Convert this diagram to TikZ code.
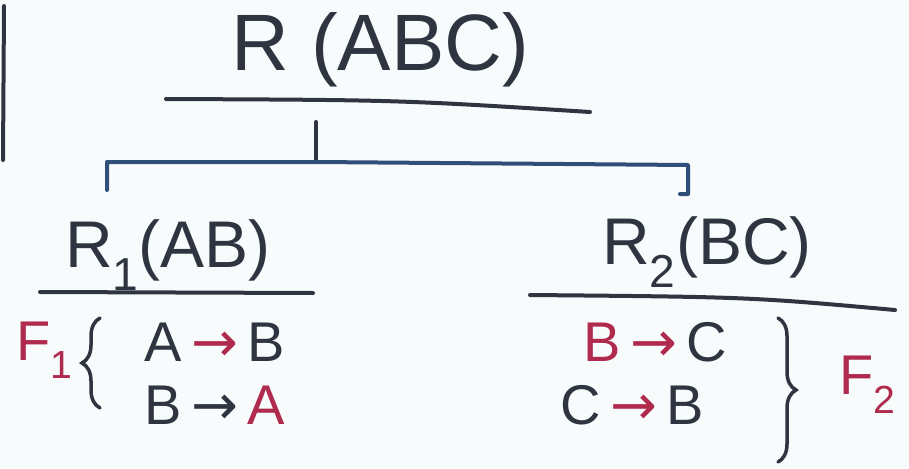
\documentclass[tikz,border=0pt]{standalone}
\usepackage{fontspec}
\setmainfont{Liberation Sans}
\newfontfamily\symfont{DejaVu Sans}
\usetikzlibrary{decorations.pathreplacing}
\definecolor{ink}{HTML}{2E3440}
\definecolor{redink}{HTML}{B02A4E}
\definecolor{blueink}{HTML}{2F4F7A}
\definecolor{paper}{HTML}{F8FBFB}
\tikzset{
  pen/.style={draw=ink, line width=4pt, line cap=round, line join=round},
  bluepen/.style={draw=blueink, line width=4pt, line cap=round, line join=round},
  big/.style={text=ink, inner sep=0pt, font=\fontsize{80}{90}\selectfont},
  mid/.style={text=ink, inner sep=0pt, font=\fontsize{66}{76}\selectfont},
  fd/.style={text=ink, inner sep=0pt, font=\fontsize{56}{64}\selectfont},
  lbl/.style={text=redink, inner sep=0pt, font=\fontsize{56}{64}\selectfont},
  curly/.style={draw=ink, line width=3.5pt, line cap=round, decorate, decoration={brace, amplitude=18pt, raise=0pt}}
}
\newcommand{\arr}{{\symfont →}}
\begin{document}
\begin{tikzpicture}[x=1pt, y=-1pt]
\fill[paper] (0,0) rectangle (909,468);
\useasboundingbox (0,0) rectangle (909,468);
% left margin line
\coordinate (m1) at (4,6);
\coordinate (m2) at (3,160);
\draw[pen] (m1) -- (m2);
% root
\node[big] (root) at (380,50) {R (ABC)};
\coordinate (u1) at (166,99);
\coordinate (u2) at (590,112);
\draw[pen] (u1) .. controls (400,100) .. (u2);
% stem and bracket
\coordinate (s1) at (316,122);
\coordinate (s2) at (316,162);
\draw[pen] (s1) -- (s2);
\coordinate (bl) at (107,162);
\coordinate (blt) at (107,190);
\coordinate (br) at (688,165);
\coordinate (brt) at (688,194);
\draw[bluepen] (blt) -- (bl) -- (s2) -- (br) -- (brt) -- ++(-8,0);
% children
\node[mid] (r1) at (168,255) {R\textsubscript{1}(AB)};
\coordinate (v1) at (40,292);
\coordinate (v2) at (313,293);
\draw[pen] (v1) -- (v2);
\node[mid] (r2) at (707,252) {R\textsubscript{2}(BC)};
\coordinate (w1) at (530,295);
\coordinate (w2) at (895,310);
\draw[pen] (w1) .. controls (750,297) .. (w2);
% F1
\node[lbl] (f1) at (45,350) {F\textsubscript{1}};
\coordinate (c1a) at (100,408);
\coordinate (c1b) at (100,318);
\draw[curly] (c1a) -- (c1b);
\node[fd] (d1) at (215,342) {A\,\textcolor{redink}{\arr}\,B};
\node[fd] (d2) at (215,405) {B\,\arr\,\textcolor{redink}{A}};
% F2
\node[fd] (d3) at (655,342) {\textcolor{redink}{B}\,\textcolor{redink}{\arr}\,C};
\node[fd] (d4) at (632,405) {C\,\textcolor{redink}{\arr}\,B};
\coordinate (c2a) at (778,318);
\coordinate (c2b) at (778,462);
\draw[curly] (c2a) -- (c2b);
\node[lbl] (f2) at (868,385) {F\textsubscript{2}};
\end{tikzpicture}
\end{document}
